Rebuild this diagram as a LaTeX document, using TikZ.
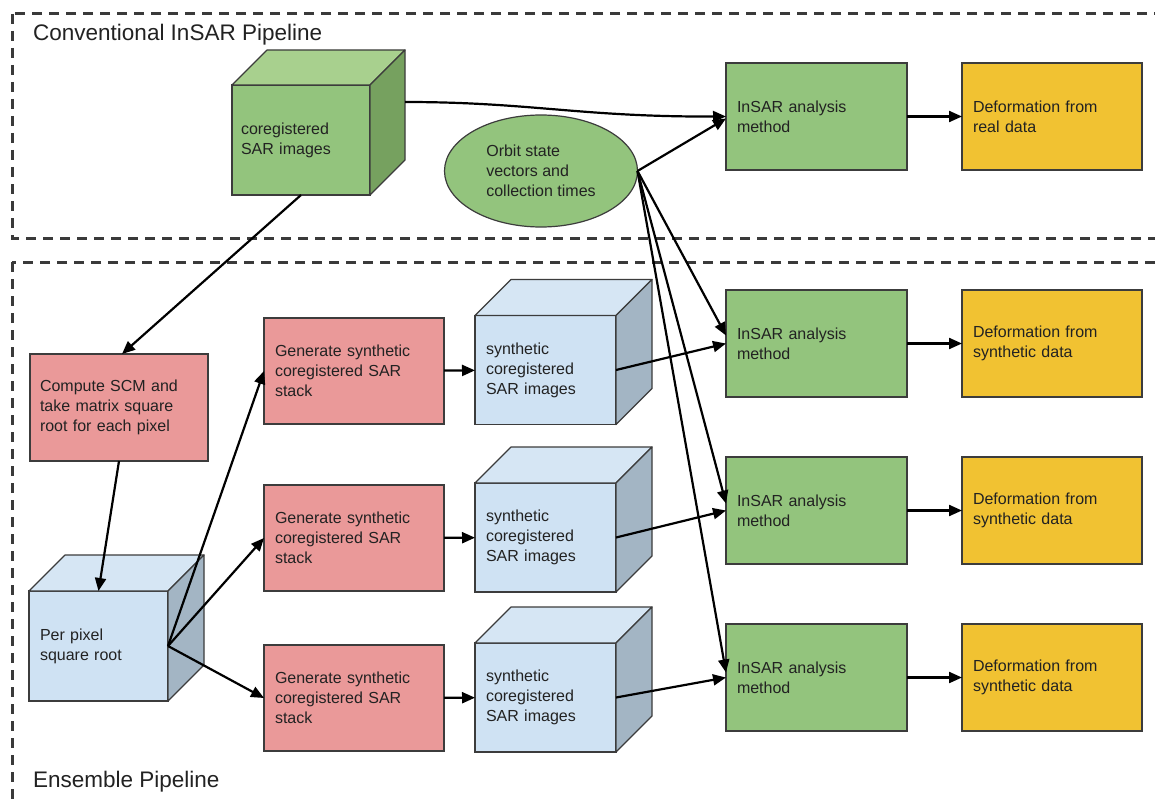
\documentclass[tikz,border=0pt]{standalone}
\usepackage{fontspec}
\setmainfont{Liberation Sans}
\usetikzlibrary{arrows.meta,shapes.geometric,calc}
\definecolor{gfront}{HTML}{93C47D}
\definecolor{gtop}{HTML}{A8D08E}
\definecolor{gside}{HTML}{76A15F}
\definecolor{bfront}{HTML}{CFE2F3}
\definecolor{btop}{HTML}{D6E6F4}
\definecolor{bside}{HTML}{A3B5C4}
\definecolor{rfill}{HTML}{EA9999}
\definecolor{yfill}{HTML}{F1C232}
\definecolor{edge}{HTML}{3C3C3C}
\definecolor{dashc}{HTML}{3A3A3A}
\definecolor{txt}{HTML}{222222}
\newcommand\drawcubefaces[4]{%
  \filldraw[fill=#3, draw=edge, line width=1.2pt, line join=round]
    (#1.north west) -- ++(#2,-#2) -- ($(#1.north east)+(#2,-#2)$) -- (#1.north east) -- cycle;
  \filldraw[fill=#4, draw=edge, line width=1.2pt, line join=round]
    (#1.north east) -- ++(#2,-#2) -- ($(#1.south east)+(#2,-#2)$) -- (#1.south east) -- cycle;
}
\begin{document}
\begin{tikzpicture}[x=1pt,y=-1pt,
  base/.style={draw=edge, line width=1.2pt, outer sep=0pt, inner xsep=11pt, inner ysep=0pt,
    align=left, text=txt, font=\fontsize{16}{20}\selectfont},
  gbox/.style={base, fill=gfront, text width=159pt, minimum height=107pt},
  ybox/.style={base, fill=yfill, text width=158pt, minimum height=107pt},
  rbox/.style={base, fill=rfill, text width=158pt, minimum height=106pt},
  scmbox/.style={base, fill=rfill, inner xsep=10pt, text width=158pt, minimum height=107pt},
  synface/.style={base, fill=bfront, text width=119pt, minimum height=109pt},
  ppface/.style={base, fill=bfront, text width=117pt, minimum height=110pt},
  coface/.style={base, fill=gfront, inner xsep=9pt, text width=120pt, minimum height=110pt},
  orbitnode/.style={ellipse, draw=edge, line width=1.2pt, fill=gfront, outer sep=0pt, inner sep=0pt,
    minimum width=193pt, minimum height=112pt, align=left, text=txt, font=\fontsize{16}{20}\selectfont},
  pipetitle/.style={anchor=west, inner sep=0pt, text=txt, font=\fontsize{22.5}{27}\selectfont},
  pipebox/.style={draw=dashc, line width=3pt, dash pattern=on 10pt off 7pt},
  arr/.style={line width=2.2pt, -{Triangle[length=13pt,width=11pt]}, black}
]
\useasboundingbox (0,0) rectangle (1155,805);
\clip (0,0) rectangle (1155,805);
\fill[white] (0,0) rectangle (1155,805);

% dashed pipeline frames
\draw[pipebox] (12,14) rectangle (1180,238);
\draw[pipebox] (12,262) rectangle (1180,830);
\node[pipetitle] (convtitle) at (33,35) {Conventional InSAR Pipeline};
\node[pipetitle] (enstitle) at (33,782) {Ensemble Pipeline};

% conventional pipeline
\node[coface] (cubeA) at (301,140) {coregistered\\SAR images};
\drawcubefaces{cubeA}{35}{gtop}{gside}
\node[orbitnode] (orbit) at (541,171) {Orbit state\\vectors and\\collection times};
\node[gbox] (ins1) at (816.5,116.5) {InSAR analysis\\method};
\node[ybox] (def1) at (1052,116.5) {Deformation from\\real data};

% ensemble pipeline
\node[scmbox] (scm) at (119,407.5) {Compute SCM and\\take matrix square\\root for each pixel};
\node[ppface] (pp) at (98.5,646) {Per pixel\\square root};
\drawcubefaces{pp}{36}{btop}{bside}

\node[rbox] (gen1) at (354,371) {Generate synthetic\\coregistered SAR\\stack};
\node[rbox] (gen2) at (354,538) {Generate synthetic\\coregistered SAR\\stack};
\node[rbox] (gen3) at (354,698) {Generate synthetic\\coregistered SAR\\stack};

\node[synface] (syn1) at (545.5,370) {synthetic\\coregistered\\SAR images};
\drawcubefaces{syn1}{36}{btop}{bside}
\node[synface] (syn2) at (545.5,537.5) {synthetic\\coregistered\\SAR images};
\drawcubefaces{syn2}{36}{btop}{bside}
\node[synface] (syn3) at (545.5,697.5) {synthetic\\coregistered\\SAR images};
\drawcubefaces{syn3}{36}{btop}{bside}

\node[gbox] (ins2) at (816.5,343.5) {InSAR analysis\\method};
\node[gbox] (ins3) at (816.5,510.5) {InSAR analysis\\method};
\node[gbox] (ins4) at (816.5,677.5) {InSAR analysis\\method};
\node[ybox] (def2) at (1052,343.5) {Deformation from\\synthetic data};
\node[ybox] (def3) at (1052,510.5) {Deformation from\\synthetic data};
\node[ybox] (def4) at (1052,677.5) {Deformation from\\synthetic data};

% connectors
\coordinate (cubeAside) at ($(cubeA.east)+(35,-38)$);
\draw[arr] (cubeAside) .. controls (530,102) and (580,117) .. (ins1.west);
\draw[arr] (orbit.east) -- ($(ins1.west)+(0,2)$);
\draw[arr] (orbit.east) -- ($(ins2.west)+(0,-8)$);
\draw[arr] (orbit.east) -- ($(ins3.west)+(0,-7)$);
\draw[arr] (orbit.east) -- ($(ins4.west)+(0,-5)$);
\draw[arr] (ins1) -- (def1);

\draw[arr] (cubeA.south) -- ($(scm.north)+(3,0)$);
\draw[arr] (scm.south) -- (pp.north);
\draw[arr] (pp.east) -- (gen1.west);
\draw[arr] (pp.east) -- (gen2.west);
\draw[arr] (pp.east) -- (gen3.west);
\draw[arr] (gen1) -- (syn1);
\draw[arr] (gen2) -- (syn2);
\draw[arr] (gen3) -- (syn3);
\draw[arr] (syn1.east) -- (ins2.west);
\draw[arr] (syn2.east) -- (ins3.west);
\draw[arr] (syn3.east) -- (ins4.west);
\draw[arr] (ins2) -- (def2);
\draw[arr] (ins3) -- (def3);
\draw[arr] (ins4) -- (def4);
\end{tikzpicture}
\end{document}
